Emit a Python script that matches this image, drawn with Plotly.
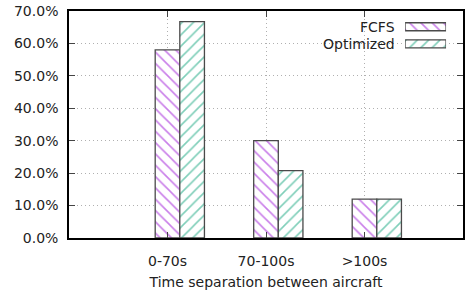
import plotly.graph_objects as go

categories = ["0-70s", "70-100s", ">100s"]
fcfs = [0.58, 0.30, 0.12]
optimized = [0.667, 0.208, 0.12]
series_names = ["FCFS", "Optimized"]
y_ticks = [0, 0.1, 0.2, 0.3, 0.4, 0.5, 0.6, 0.7]

purple = "#9400d3"
teal = "#009e73"
edge = "#4a4a4a"
font = "DejaVu Sans"
fs = 14

x_idx = list(range(len(categories)))

fig = go.Figure()
for name, vals, col, shp, off in [(series_names[0], fcfs, purple, "\\", -0.125),
                                  (series_names[1], optimized, teal, "/", 0.125)]:
    fig.add_trace(go.Bar(
        x=x_idx, y=vals, name=name, showlegend=False, width=0.25, offset=off,
        marker=dict(color="white", line=dict(color=edge, width=1.3),
                    pattern=dict(shape=shp, fgcolor=col, bgcolor="white",
                                 size=8, solidity=0.2)),
    ))

# legend keys (drawn on an overlay axis)
for i, (name, col, shp) in enumerate([(series_names[0], purple, "\\"),
                                      (series_names[1], teal, "/")]):
    fig.add_trace(go.Bar(
        x=[1], y=[i], orientation="h", width=0.47, showlegend=False,
        xaxis="x2", yaxis="y2", hoverinfo="skip",
        marker=dict(color="white", line=dict(color=edge, width=1.3),
                    pattern=dict(shape=shp, fgcolor=col, bgcolor="white",
                                 size=8, solidity=0.2)),
    ))
    fig.add_annotation(xref="x2 domain", yref="y2", x=-0.2, y=i, text=name,
                       showarrow=False, xanchor="right", yanchor="middle",
                       font=dict(family=font, size=fs, color="#222"))

axis_common = dict(showline=True, mirror="ticks", linecolor="black", linewidth=1.5,
                   ticks="inside", ticklen=6, tickcolor="#444",
                   showgrid=True, gridcolor="#b0b0b0", griddash="1px,3px", gridwidth=1,
                   zeroline=False, automargin=False,
                   tickfont=dict(family=font, size=fs, color="#222"))

fig.update_layout(
    width=465, height=294, autosize=False,
    margin=dict(l=69, r=2, t=11, b=56, autoexpand=False),
    paper_bgcolor="white", plot_bgcolor="white",
    barmode="overlay",
    font=dict(family=font, size=fs, color="#222"),
    xaxis=dict(range=[-1, 3], tickvals=x_idx, ticktext=categories,
               ticklabelstandoff=9,
               title=dict(text="Time separation between aircraft", standoff=10,
                          font=dict(family=font, size=fs, color="#222")),
               **axis_common),
    yaxis=dict(range=[0, 0.7], tickvals=y_ticks, tickformat=".1%",
               ticklabelstandoff=6,
               **axis_common),
    xaxis2=dict(domain=[0.853, 0.957], range=[0, 1], visible=False,
                anchor="y2", fixedrange=True),
    yaxis2=dict(domain=[0.818, 0.968], range=[1.5, -0.5], visible=False,
                anchor="x2", fixedrange=True),
)

fig.write_html("out.html", config={"displayModeBar": False},
               post_script="document.body.style.margin='0';document.body.style.overflow='hidden';")
